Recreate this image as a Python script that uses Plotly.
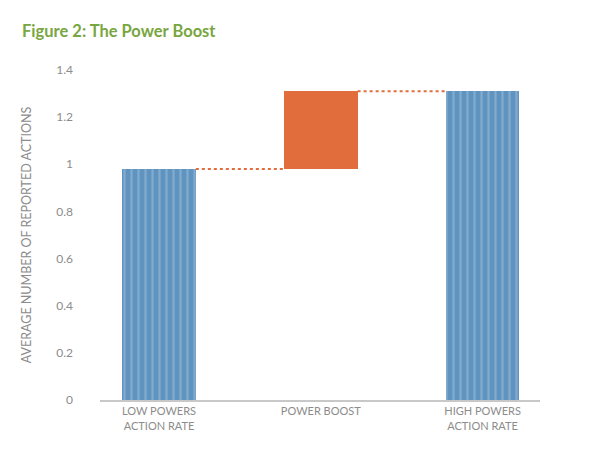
import plotly.graph_objects as go

# categories and values
categories = ['LOW POWERS<br>ACTION RATE', 'POWER BOOST', 'HIGH POWERS<br>ACTION RATE']
low_rate = 0.98
high_rate = 1.31
boost = high_rate - low_rate

bar_w = 0.455
xs = [0, 1, 2]
bases = [0, low_rate, 0]
heights = [low_rate, boost, high_rate]

blue = '#5f93c0'
orange = '#e06d3b'
gray = '#8c8c8c'

fig = go.Figure()

# city-photo bars approximated with a blue fill and a light vertical pattern
fig.add_trace(go.Bar(
    x=[xs[0], xs[2]], y=[heights[0], heights[2]], base=[bases[0], bases[2]],
    width=bar_w,
    marker=dict(color=blue, line=dict(width=0),
                pattern=dict(shape='|', fgcolor='#aac2d8', size=7, solidity=0.3,
                             fillmode='overlay')),
    hoverinfo='skip', showlegend=False))

fig.add_trace(go.Bar(
    x=[xs[1]], y=[heights[1]], base=[bases[1]], width=bar_w,
    marker=dict(color=orange, line=dict(width=0)),
    hoverinfo='skip', showlegend=False))

# dotted connectors between bar edges
half = bar_w / 2
for x0, x1, yv in [(xs[0] + half, xs[1] - half, low_rate),
                   (xs[1] + half, xs[2] - half, high_rate)]:
    fig.add_trace(go.Scatter(
        x=[x0, x1], y=[yv, yv], mode='lines',
        line=dict(color=orange, width=2, dash='dot'),
        hoverinfo='skip', showlegend=False))

fig.update_layout(
    width=611, height=455,
    margin=dict(l=92, r=79, t=62, b=63),
    paper_bgcolor='white', plot_bgcolor='white',
    font=dict(family='Lato, Noto Sans, sans-serif', color=gray, size=12),
    title=dict(text='<b>Figure 2: The Power Boost</b>',
               font=dict(family='Lato, Noto Sans, sans-serif', size=16.5, color='#78a640'),
               x=0.023, xanchor='left', xref='container',
               y=0.949, yanchor='middle', yref='container'),
    bargap=0,
)

fig.update_xaxes(
    range=[-0.365, 2.355],
    tickvals=xs, ticktext=categories,
    showgrid=False, zeroline=False,
    showline=True, linecolor='#c8c8c8', linewidth=2,
    ticks='', tickfont=dict(size=11, color=gray),
)
fig.update_yaxes(
    range=[0, 1.4], dtick=0.2,
    showgrid=False, zeroline=False, showline=False,
    ticks='', tickfont=dict(size=12, color=gray),
    ticklabelstandoff=26,
    title=dict(text='AVERAGE NUMBER OF REPORTED ACTIONS',
               font=dict(size=12.5, color=gray), standoff=21),
)

fig.write_html('out.html')
